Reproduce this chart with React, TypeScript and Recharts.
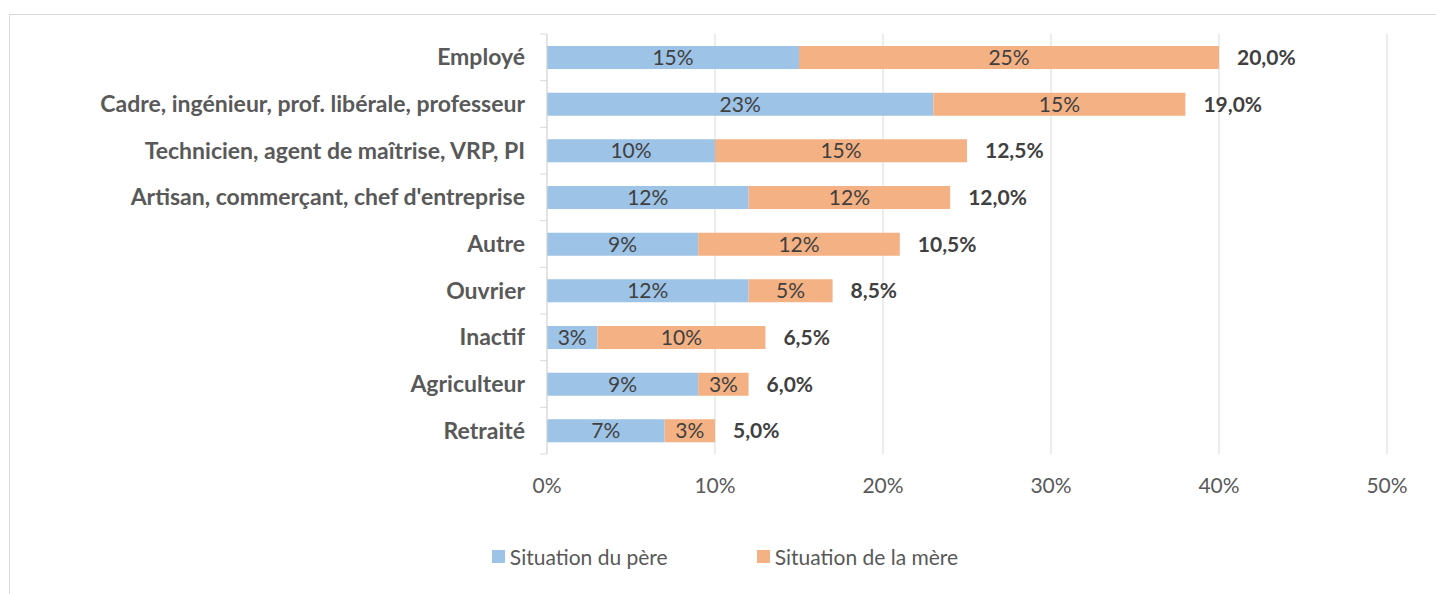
import { Bar, BarChart, CartesianGrid, LabelList, Legend, XAxis, YAxis } from "recharts";

const categories = [
  "Employé",
  "Cadre, ingénieur, prof. libérale, professeur",
  "Technicien, agent de maîtrise, VRP, PI",
  "Artisan, commerçant, chef d'entreprise",
  "Autre",
  "Ouvrier",
  "Inactif",
  "Agriculteur",
  "Retraité",
];
const pere = [15, 23, 10, 12, 9, 12, 3, 9, 7];
const mere = [25, 15, 15, 12, 12, 5, 10, 3, 3];
const moyenne = [20.0, 19.0, 12.5, 12.0, 10.5, 8.5, 6.5, 6.0, 5.0];
const xTicks = [0, 10, 20, 30, 40, 50];
const seriesOrder = ["pere", "mere"];

const BLUE = "#9DC3E6";
const ORANGE = "#F4B183";
const GRID = "#d9d9d9";
const FONT = 21;

const data = categories.map((name, i) => ({
  name,
  pere: pere[i],
  mere: mere[i],
  moyenne: moyenne[i],
}));

// excel style: ticks between categories, not at centers
const CategoryTick = (props: any) => {
  const { x, y, payload, index } = props;
  const axisX = x + 22;
  const half = payload.offset || 0;
  return (
    <g>
      <line x1={axisX - 7} x2={axisX} y1={y - half} y2={y - half} stroke={GRID} />
      {index === data.length - 1 && (
        <line x1={axisX - 7} x2={axisX} y1={y + half} y2={y + half} stroke={GRID} />
      )}
      <text
        x={x}
        y={y}
        dy="0.35em"
        textAnchor="end"
        fill="#595959"
        fontWeight="bold"
        fontSize={23}
      >
        {payload.value}
      </text>
    </g>
  );
};

const LegendContent = (props: any) => {
  const payload = [...(props.payload || [])].sort(
    (a: any, b: any) => seriesOrder.indexOf(a.dataKey) - seriesOrder.indexOf(b.dataKey)
  );
  return (
    <div
      style={{
        display: "flex",
        justifyContent: "center",
        alignItems: "center",
        height: 24,
      }}
    >
      {payload.map((entry: any, i: number) => (
        <div
          key={entry.value}
          style={{
            display: "flex",
            alignItems: "center",
            marginRight: i === 0 ? 89 : 0,
          }}
        >
          <span
            style={{
              display: "inline-block",
              width: 13,
              height: 13,
              background: entry.color,
              marginRight: 5,
            }}
          />
          <span style={{ fontSize: FONT, color: "#595959" }}>{entry.value}</span>
        </div>
      ))}
    </div>
  );
};

const fmtAvg = (v: any) => `${Number(v).toFixed(1).replace(".", ",")}%`;

export default function App() {
  return (
    <div
      style={{
        position: "fixed",
        left: 0,
        top: 0,
        width: 1436,
        height: 594,
        overflow: "hidden",
        background: "#fff",
        fontFamily: "Lato, sans-serif",
      }}
    >
      <div
        style={{
          position: "absolute",
          left: 9,
          top: 14,
          width: 1440,
          height: 600,
          border: `1px solid ${GRID}`,
        }}
      >
        <BarChart
          width={1430}
          height={580}
          data={data}
          layout="vertical"
          barSize={23}
          margin={{ top: 19, right: 53, left: 0, bottom: 27 }}
        >
          <CartesianGrid horizontal={false} stroke={GRID} />
          <XAxis
            type="number"
            domain={[0, 50]}
            ticks={xTicks}
            tickFormatter={(v) => `${v}%`}
            axisLine={false}
            tickLine={false}
            tickSize={0}
            tickMargin={24}
            height={90}
            tick={{ fill: "#595959", fontSize: FONT }}
          />
          <YAxis
            type="category"
            dataKey="name"
            width={537}
            axisLine={{ stroke: GRID }}
            tickLine={false}
            tickSize={0}
            tickMargin={22}
            interval={0}
            tick={<CategoryTick />}
          />
          <Legend verticalAlign="bottom" wrapperStyle={{ left: 0, width: 1430 }} content={<LegendContent />} />
          <Bar dataKey="pere" name="Situation du père" stackId="a" fill={BLUE} isAnimationActive={false}>
            <LabelList dataKey="pere" position="center" fill="#404040" fontSize={FONT} formatter={(v: any) => `${v}%`} />
          </Bar>
          <Bar dataKey="mere" name="Situation de la mère" stackId="a" fill={ORANGE} isAnimationActive={false}>
            <LabelList dataKey="mere" position="center" fill="#404040" fontSize={FONT} formatter={(v: any) => `${v}%`} />
            <LabelList
              dataKey="moyenne"
              position="right"
              offset={18}
              fill="#404040"
              fontSize={FONT}
              fontWeight="bold"
              formatter={fmtAvg}
            />
          </Bar>
        </BarChart>
      </div>
    </div>
  );
}
